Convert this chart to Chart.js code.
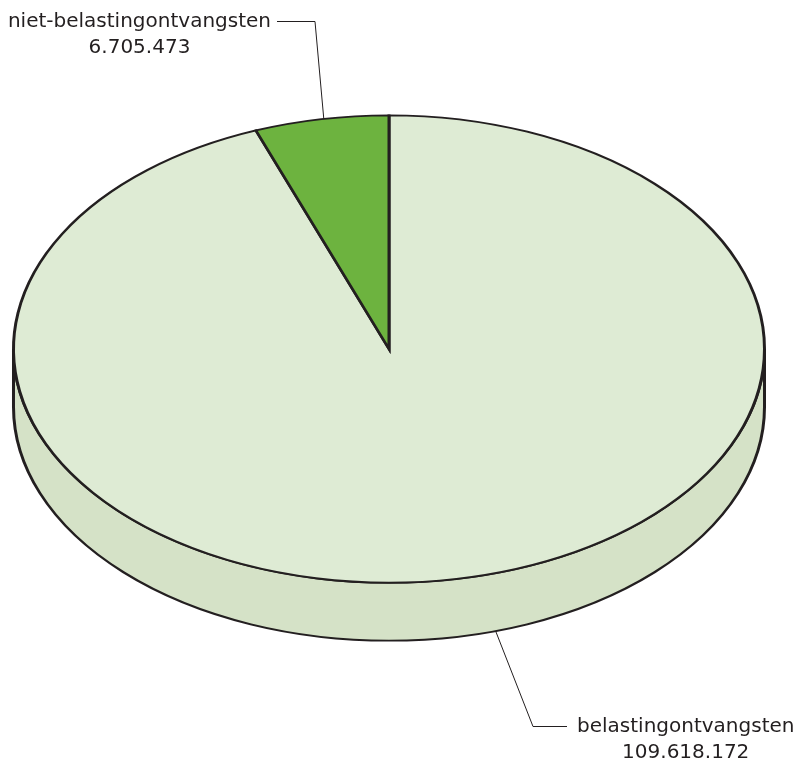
<!DOCTYPE html>
<html>
<head>
<meta charset="utf-8">
<script src="https://cdn.jsdelivr.net/npm/chart.js@4"></script>
<style>
  html, body { margin: 0; padding: 0; background: #fff; }
  canvas { display: block; }
</style>
</head>
<body>
<canvas id="pie" width="799" height="762"></canvas>
<script>
// data
const categories = ["belastingontvangsten", "niet-belastingontvangsten"];
const amounts = [109618172, 6705473];
const amountLabels = ["109.618.172", "6.705.473"];

// look
const topColors = ["#deebd4", "#6db33f"];
const sideColors = ["#d5e2c7", "#5f9c36"];
const ink = "#231f20";

// 3d squash: pie is drawn round by chart.js, then flattened
const centerY = 349;
const squash = 234 / 376;
const depth = 58;

// label leaders: angle on the rim, elbow and text position (screen px)
const labelLayout = [
    { angle: 73.5, onSide: true, elbow: [533, 726], end: [567, 726], text: [577, 732], align: "left" },
    { angle: -100, onSide: false, elbow: [315, 21], end: [277, 21], text: [271, 27], align: "right" },
];

function bottomParts(s, e) {
    const parts = [];
    for (let k = -2; k <= 2; k++) {
        const off = 2 * Math.PI * k;
        const a = Math.max(s, off);
        const b = Math.min(e, Math.PI + off);
        if (a < b) parts.push([a, b]);
    }
    return parts;
}

const pie3d = {
    id: "pie3d",
    beforeDatasetsDraw(chart) {
        const ctx = chart.ctx;
        const arcs = chart.getDatasetMeta(0).data;
        const cy = arcs[0].y;
        ctx.save();
        ctx.translate(0, centerY);
        ctx.scale(1, squash);
        ctx.translate(0, -cy);

        // side walls of the slices facing the viewer
        const d = depth / squash;
        arcs.forEach((arc, i) => {
            bottomParts(arc.startAngle, arc.endAngle).forEach(([a, b]) => {
                ctx.beginPath();
                ctx.arc(arc.x, arc.y + d, arc.outerRadius, a, b);
                ctx.arc(arc.x, arc.y, arc.outerRadius, b, a, true);
                ctx.closePath();
                ctx.fillStyle = sideColors[i];
                ctx.fill();
                ctx.lineWidth = 3;
                ctx.lineJoin = "miter";
                ctx.strokeStyle = ink;
                ctx.stroke();
            });
        });
    },
    afterDatasetsDraw(chart) {
        chart.ctx.restore();
    },
    afterDraw(chart) {
        const ctx = chart.ctx;
        const arcs = chart.getDatasetMeta(0).data;
        ctx.save();
        ctx.strokeStyle = ink;
        ctx.fillStyle = ink;
        ctx.lineWidth = 1;
        ctx.font = "20px 'DejaVu Sans', sans-serif";
        labelLayout.forEach((lay, i) => {
            const arc = arcs[i];
            const t = lay.angle * Math.PI / 180;
            const ax = arc.x + arc.outerRadius * Math.cos(t);
            const ay = centerY + arc.outerRadius * squash * Math.sin(t) + (lay.onSide ? depth : 0);
            ctx.beginPath();
            ctx.moveTo(ax, ay);
            ctx.lineTo(lay.elbow[0], lay.elbow[1] + 0.5);
            ctx.lineTo(lay.end[0], lay.end[1] + 0.5);
            ctx.stroke();

            ctx.textBaseline = "alphabetic";
            ctx.textAlign = lay.align;
            ctx.fillText(categories[i], lay.text[0], lay.text[1]);
            const w = ctx.measureText(categories[i]).width;
            const mid = lay.align === "left" ? lay.text[0] + w / 2 : lay.text[0] - w / 2;
            ctx.textAlign = "center";
            ctx.fillText(amountLabels[i], mid, lay.text[1] + 26);
        });
        ctx.restore();
    }
};

new Chart(document.getElementById("pie"), {
    type: "pie",
    data: {
        labels: categories,
        datasets: [{
            data: amounts,
            backgroundColor: topColors,
            borderColor: ink,
            borderWidth: 3,
            borderJoinStyle: "miter",
        }],
    },
    options: {
        responsive: false,
        animation: false,
        events: [],
        layout: { padding: { left: 12, right: 33, top: 4, bottom: 4 } },
        plugins: {
            legend: { display: false },
            tooltip: { enabled: false },
        },
    },
    plugins: [pie3d],
});
</script>
</body>
</html>
